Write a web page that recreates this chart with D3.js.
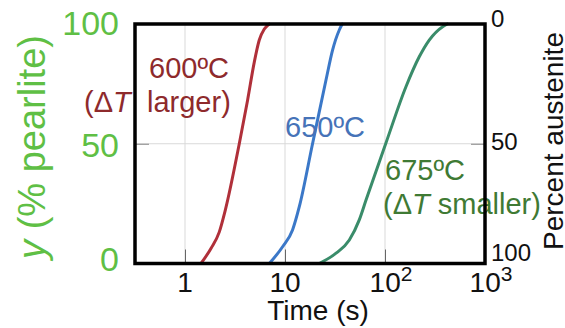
<!DOCTYPE html>
<html>
<head>
<meta charset="utf-8">
<script src="https://cdn.jsdelivr.net/npm/d3@7"></script>
<style>
  html, body { margin: 0; padding: 0; background: #fff; }
  svg { display: block; font-family: "Liberation Sans", Arial, Helvetica, sans-serif; }
</style>
</head>
<body>
<svg id="chart" width="565" height="328"></svg>
<script>
// ---- data ----
const xTicks = [1, 10, 100, 1000];
const xTickBase = ["1", "10", "10", "10"];
const xTickExp = ["", "", "2", "3"];
const leftTicks = [0, 50, 100];
const rightTickLabels = ["100", "50", "0"]; // percent austenite at y = 0, 50, 100 % pearlite

const t600 = [1.445, 1.83, 2.20, 2.53, 3.49, 4.23, 4.93, 5.53, 6.21, 6.97];
const y600 = [0, 6.5, 13.1, 22.3, 50, 68.3, 84.1, 93.3, 97.9, 100];

const t650 = [6.97, 9.46, 11.9, 13.9, 18.9, 25.7, 29.9, 34.9, 37.4];
const y650 = [0, 7.0, 14.0, 23.7, 50.2, 76.6, 89.1, 97.5, 100];

const t675 = [22.0, 32.4, 44.0, 55.3, 64.6, 102, 162, 220, 277, 377, 420];
const y675 = [0, 4.3, 9.8, 18.2, 26.5, 50.2, 73.8, 86.3, 93.3, 98.9, 100];

const seriesColors = ["#b0303a", "#3b78c8", "#3a8c6a"];

// ---- layout ----
const svg = d3.select("#chart");
const L = 135, R = 485, T = 24, B = 263.5;
const x = d3.scaleLog().domain([Math.pow(10, -0.5), 1000]).range([L, R]);
const y = d3.scaleLinear().domain([0, 100]).range([B, T]);

svg.append("rect").attr("width", 565).attr("height", 328).attr("fill", "#fff");

// grid
const grid = svg.append("g");
grid.selectAll("line.v").data([1, 10, 100]).join("line")
  .attr("x1", d => x(d)).attr("x2", d => x(d))
  .attr("y1", T).attr("y2", B)
  .attr("stroke", "#d9d9d9").attr("stroke-width", 1);
grid.selectAll("line.h").data([50]).join("line")
  .attr("x1", L).attr("x2", R)
  .attr("y1", d => y(d)).attr("y2", d => y(d))
  .attr("stroke", "#d9d9d9").attr("stroke-width", 1);

// axes (inner ticks only)
const xAxis = d3.axisBottom(x).tickValues([1, 10, 100]).tickSizeInner(-14).tickSizeOuter(0).tickFormat("");
const gx = svg.append("g").attr("transform", `translate(0,${B})`).call(xAxis);
gx.select(".domain").remove();
gx.selectAll(".tick line").attr("stroke", "#666").attr("stroke-width", 1);

const yAxisL = d3.axisLeft(y).tickValues([50]).tickSizeInner(-14).tickSizeOuter(0).tickFormat("");
const gyl = svg.append("g").attr("transform", `translate(${L},0)`).call(yAxisL);
gyl.select(".domain").remove();
gyl.selectAll(".tick line").attr("stroke", "#888");

const yAxisR = d3.axisRight(y).tickValues([50]).tickSizeInner(-14).tickSizeOuter(0).tickFormat("");
const gyr = svg.append("g").attr("transform", `translate(${R},0)`).call(yAxisR);
gyr.select(".domain").remove();
gyr.selectAll(".tick line").attr("stroke", "#888");

// curves
const line = d3.line().x(d => x(d[0])).y(d => y(d[1])).curve(d3.curveMonotoneX);
const series = [
  d3.zip(t600, y600),
  d3.zip(t650, y650),
  d3.zip(t675, y675)
];
svg.append("g").selectAll("path").data(series).join("path")
  .attr("d", line)
  .attr("fill", "none")
  .attr("stroke", (d, i) => seriesColors[i])
  .attr("stroke-width", 3)
  .attr("stroke-linecap", "round");

// annotations
function note(xp, yp, color, parts) {
  const t = svg.append("text").attr("x", xp).attr("y", yp)
    .attr("fill", color).attr("font-size", 29);
  parts.forEach(p => {
    const s = t.append("tspan").text(p[0]);
    if (p[1]) s.attr("font-style", "italic");
    if (p[2] !== undefined) s.attr("x", p[2]);
  });
}
note(149, 78, "#8e2a2c", [["600ºC"]]);
note(84, 112, "#8e2a2c", [["(Δ"], ["T", true], ["larger)", false, 147]]);
note(285, 137, "#4673b8", [["650ºC"]]);
note(385, 180, "#3f7a34", [["675ºC"]]);
note(383, 214, "#3f7a34", [["(Δ"], ["T", true], [" smaller)"]]);

// plot frame (on top)
svg.append("rect").attr("x", L).attr("y", T).attr("width", R - L).attr("height", B - T)
  .attr("fill", "none").attr("stroke", "#000").attr("stroke-width", 3.5);

// bottom tick labels
const xl = svg.append("g").attr("font-size", 28).attr("fill", "#111");
xTicks.forEach((v, i) => {
  const t = xl.append("text")
    .attr("x", x(v) + (xTickExp[i] ? 6 : 0))
    .attr("y", 292).attr("text-anchor", "middle");
  t.append("tspan").text(xTickBase[i]);
  if (xTickExp[i]) t.append("tspan").attr("dy", -11).attr("font-size", 21).text(xTickExp[i]);
});
svg.append("text").attr("x", 318).attr("y", 320).attr("text-anchor", "middle")
  .attr("font-size", 28).attr("fill", "#111").text("Time (s)");

// left axis labels (green)
const green = "#5fbf45";
svg.append("g").selectAll("text").data(leftTicks).join("text")
  .attr("x", 119)
  .attr("y", d => d === 100 ? 35 : d === 50 ? 157 : 271)
  .attr("text-anchor", "end").attr("font-size", 34).attr("fill", green)
  .text(d => d);
const ll = svg.append("text")
  .attr("transform", "translate(45,147) rotate(-90)")
  .attr("text-anchor", "middle").attr("font-size", 38).attr("fill", green);
ll.append("tspan").attr("font-style", "italic").text("y");
ll.append("tspan").text(" (% pearlite)");

// right axis labels
svg.append("g").selectAll("text").data(leftTicks).join("text")
  .attr("x", 491)
  .attr("y", d => d === 100 ? 27 : d === 50 ? 150 : 261)
  .attr("font-size", 24).attr("fill", "#111")
  .text((d, i) => rightTickLabels[i]);
svg.append("text")
  .attr("transform", "translate(563,141) rotate(-90)")
  .attr("text-anchor", "middle").attr("font-size", 28).attr("fill", "#111")
  .text("Percent austenite");
</script>
</body>
</html>
